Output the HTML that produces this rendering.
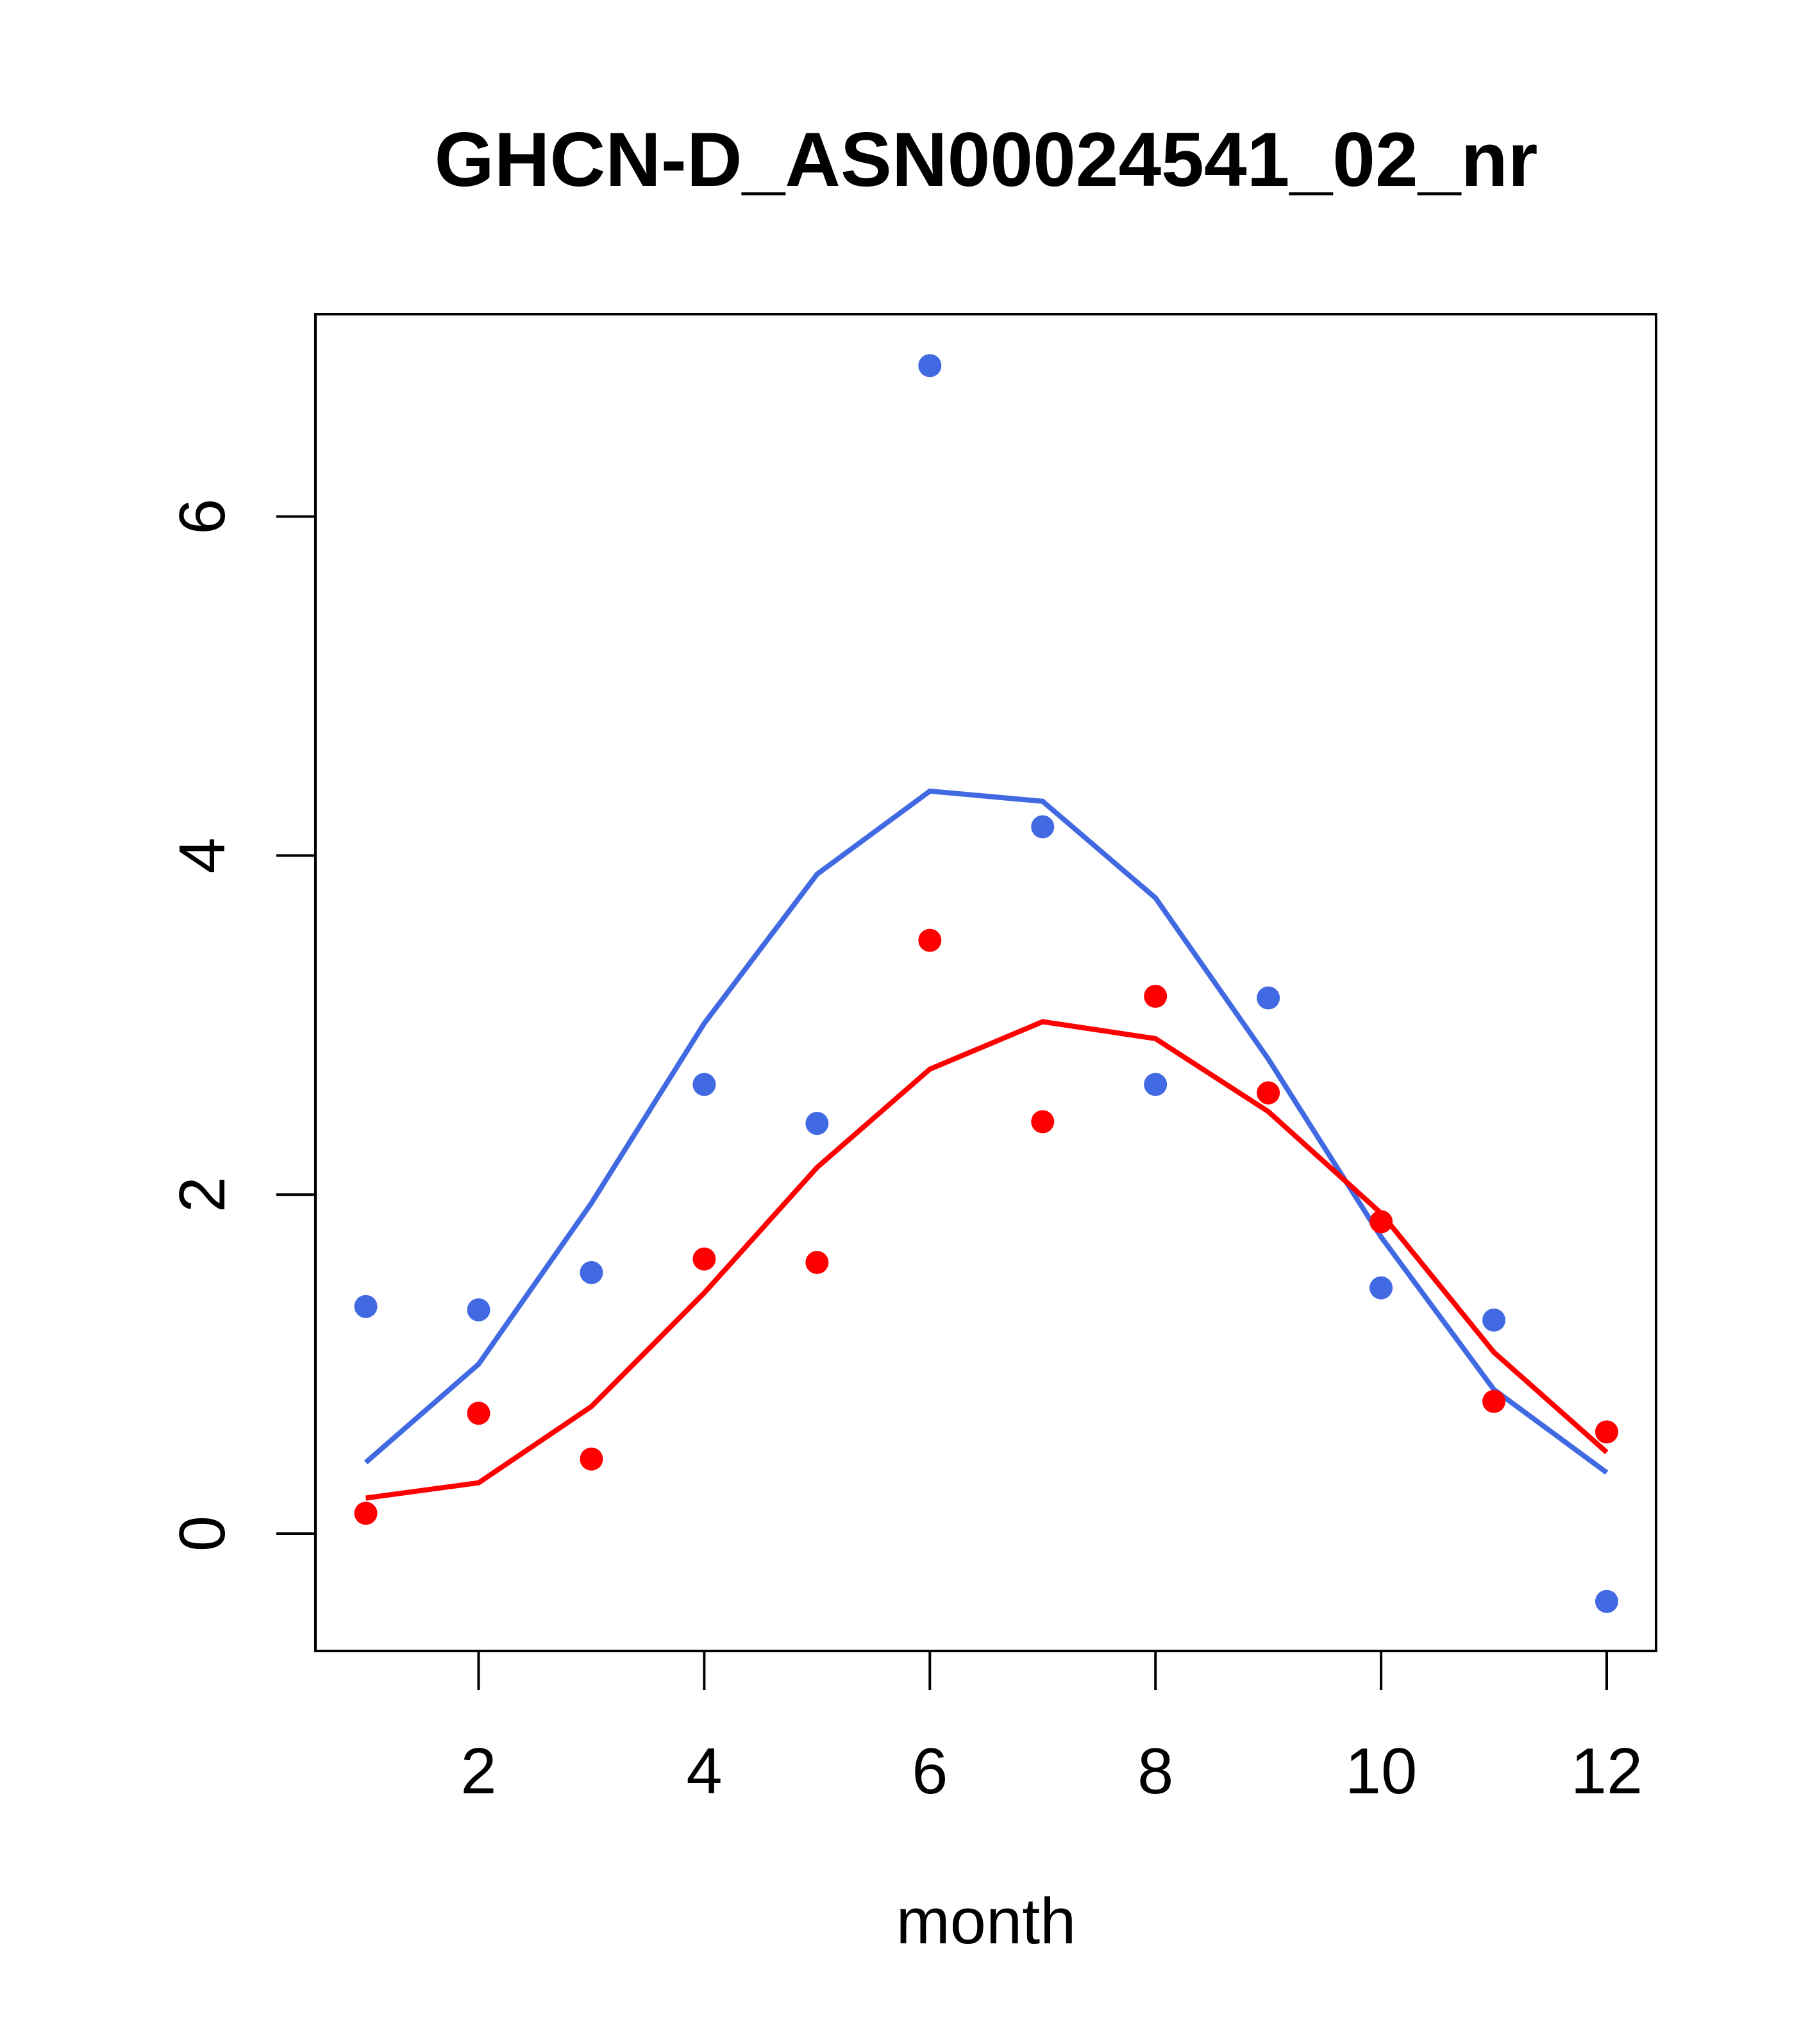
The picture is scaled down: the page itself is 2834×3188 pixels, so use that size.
<!DOCTYPE html>
<html><head><meta charset="utf-8"><style>html,body{margin:0;padding:0;background:#fff}svg{display:block}</style></head>
<body>
<svg id="chart" width="2834" height="3188" xmlns="http://www.w3.org/2000/svg" font-family="Liberation Sans, sans-serif">
<text x="1538" y="290" font-size="120" font-weight="bold" text-anchor="middle">GHCN-D_ASN00024541_02_nr</text>
<rect x="492" y="490" width="2091" height="2085" fill="none" stroke="#000" stroke-width="4"/>
<g id="xaxis"></g>
<g id="yaxis"></g>
<text x="1538" y="3031" font-size="101" text-anchor="middle">month</text>
<g id="series"></g>
</svg>
<script>
const months = [1,2,3,4,5,6,7,8,9,10,11,12];
const bluePoints = [1.34,1.32,1.54,2.65,2.42,6.89,4.17,2.65,3.16,1.45,1.26,-0.40];
const blueLine = [0.42,1.0,1.95,3.01,3.89,4.38,4.32,3.75,2.8,1.75,0.85,0.36];
const redPoints = [0.12,0.71,0.44,1.62,1.6,3.5,2.43,3.17,2.6,1.84,0.78,0.6];
const redLine = [0.21,0.3,0.75,1.42,2.16,2.74,3.02,2.92,2.49,1.89,1.07,0.48];
const xTicks = [2,4,6,8,10,12];
const yTicks = [0,2,4,6];

const NS = "http://www.w3.org/2000/svg";
function X(m){ return 746.5 + (m-2)*175.95; }
function Y(v){ return 2392 - v*264.4; }
function mk(tag, attrs, parent){ const e=document.createElementNS(NS,tag); for(const k in attrs) e.setAttribute(k,attrs[k]); parent.appendChild(e); return e; }

const xa=document.getElementById('xaxis');
mk('line',{x1:X(2),x2:X(12),y1:2575,y2:2575,stroke:'#000','stroke-width':4},xa);
xTicks.forEach(t=>{
  const l=mk('line',{x1:X(t),x2:X(t),y1:2575,y2:2636,stroke:'#000','stroke-width':4},xa);
  
  
  const tx=mk('text',{x:X(t),y:2797,'font-size':101,'text-anchor':'middle'},xa);
  tx.textContent=t;
  
  
});
const ya=document.getElementById('yaxis');
mk('line',{x1:492,x2:492,y1:Y(0),y2:Y(6),stroke:'#000','stroke-width':4},ya);
yTicks.forEach(t=>{
  const l=mk('line',{x1:431,x2:492,y1:Y(t),y2:Y(t),stroke:'#000','stroke-width':4},ya);
  
  
  const tx=mk('text',{x:350,y:Y(t),'font-size':101,'text-anchor':'middle',transform:`rotate(-90 350 ${Y(t)})`},ya);
  tx.textContent=t;
  
  
});
const s=document.getElementById('series');
function line(vals,color,name){
  const p=mk('polyline',{points:months.map((m,i)=>X(m)+','+Y(vals[i])).join(' '),fill:'none',stroke:color,'stroke-width':8},s);
  
  
}
function pts(vals,color,name){
  months.forEach((m,i)=>{
    const c=mk('circle',{cx:X(m),cy:Y(vals[i]),r:18,fill:color},s);
    
    
  });
}
line(blueLine,'#4169E1','blue-line');
line(redLine,'#FF0000','red-line');
pts(bluePoints,'#4169E1','blue-point');
pts(redPoints,'#FF0000','red-point');
</script>
</body></html>
